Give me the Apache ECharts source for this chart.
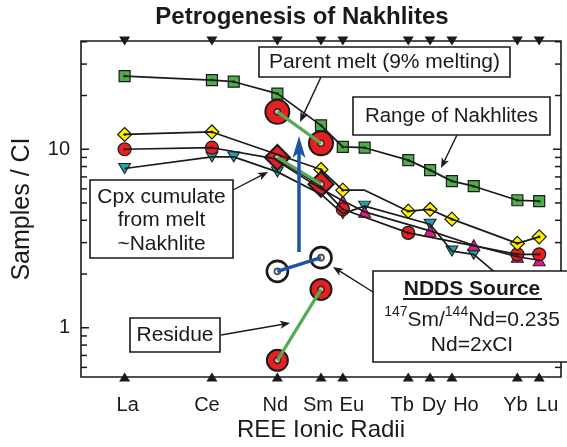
<!DOCTYPE html>
<html><head><meta charset="utf-8">
<script src="https://cdn.jsdelivr.net/npm/echarts@6/dist/echarts.min.js"></script>
<style>html,body{margin:0;padding:0;background:#fff}#c{width:567px;height:447px}</style>
</head><body><div id="c"></div>
<script>
// ---- data ----
const elements     = ['La','Ce','Pr','Nd','Sm','Eu','Gd','Tb','Dy','Ho','Er','Yb','Lu'];
const radiusPos    = [0, 4, 5, 7, 9, 10, 11, 13, 14, 15, 16, 18, 19];
const tickElements = ['La','Ce','Nd','Sm','Eu','Tb','Dy','Ho','Yb','Lu'];

const nakhliteMax  = [25.7,24.4,23.9,20.5,13.6,10.3,10.2,8.69,7.64,6.63,6.21,5.18,5.12];
const yellowLine   = [12.1,12.5,null,null,7.7,5.9,5.9,4.5,4.6,4.06,null,2.97,3.23];
const yellowPts    = [12.1,12.5,null,null,7.7,5.9,null,4.5,4.6,4.06,null,2.97,3.23];
const redLine      = [10.0,10.2,null,8.8,6.2,4.61,null,3.40,null,null,null,2.58,2.58];
const redPts       = [10.0,10.2,null,null,null,4.61,null,3.40,null,null,null,2.58,2.58];
const cyanLine     = [7.8,9.06,9.06,7.47,5.6,4.36,4.80,null,3.80,2.69,2.58,1.6,1.55];
const cyanPts      = [7.8,9.06,9.06,7.47,null,4.36,4.80,null,3.80,2.69,2.58,null,null];
const magentaLine  = [null,null,null,8.6,6.0,5.14,4.46,null,3.49,null,2.90,2.50,2.39];
const magentaPts   = [null,null,null,null,null,5.14,4.46,null,3.49,null,2.90,2.50,2.39];

const modelElements = ['Nd','Sm'];
const parentMelt    = [16.2, 10.8];
const cpxCumulate   = [9.0, 6.37];
const residue       = [0.657, 1.64];
const nddsSource    = [2.07, 2.47];

const yMajorTicks = [1, 10];
const yMinorTicks = [0.6,0.7,0.8,0.9,2,3,4,5,6,7,8,9,20,30,40];
const xMin = -2, xMax = 20, yMin = 0.53, yMax = 40.4;

// ---- styling (label nudges in px, as typeset in the original) ----
const labelNudge = {La:3, Ce:-5, Nd:-2, Sm:-3, Eu:9, Tb:-6, Dy:4, Ho:14, Yb:-2, Lu:8};

// ---- helpers ----
const F = 'Liberation Sans, Arial, Helvetica, sans-serif';
const INK = '#1a1a1a';
function pairs(vals){ const o=[]; vals.forEach((v,i)=>{ if(v!=null) o.push([radiusPos[i], v]); }); return o; }
function modelPairs(vals){ return vals.map((v,i)=>[radiusPos[elements.indexOf(modelElements[i])], v]); }
function blackLine(vals){ return {type:'line', data:pairs(vals), symbol:'none', silent:true, lineStyle:{color:INK, width:1.7}}; }
function colorLine(data, color, w){ return {type:'line', data, symbol:'none', silent:true, lineStyle:{color, width:w}}; }
function marks(data, symbol, size, color, bw, rot){ return {type:'scatter', data, symbol, symbolSize:size, symbolRotate:rot||0, clip:false, silent:true,
  itemStyle:{color, borderColor:INK, borderWidth:bw, opacity:1}}; }
function dots(data, size){ return {type:'scatter', data, symbol:'circle', symbolSize:size, clip:false, silent:true, itemStyle:{color:INK}}; }
function ringDots(data){ return {type:'scatter', data, symbol:'circle', symbolSize:6, clip:false, silent:true, itemStyle:{color:'#eee', borderColor:INK, borderWidth:1.6}}; }
function nameAt(v){
  const r = Math.round(v); const i = radiusPos.indexOf(r);
  if (Math.abs(v-r)>1e-6 || i<0) return '';
  const e = elements[i];
  return tickElements.indexOf(e)>=0 ? '{'+e+'|'+e+'}' : '';
}
const labelRich = {};
tickElements.forEach(e=>{ const n=labelNudge[e]||0;
  labelRich[e] = {fontSize:20, color:INK, fontFamily:F, padding: n>0 ? [0,0,0,2*n] : [0,-2*n,0,0]}; });

const tickData = yMajorTicks.map(v=>[xMin,v,8]).concat(yMinorTicks.map(v=>[xMin,v,6]));

function arrow(x1,y1,x2,y2,color,w,hl,hw){
  const a=Math.atan2(y2-y1,x2-x1), c=Math.cos(a), s=Math.sin(a);
  const bx=x2-hl*c, by=y2-hl*s;
  return [
    {type:'line', z:100, shape:{x1,y1,x2:bx+hl*0.3*c,y2:by+hl*0.3*s}, style:{stroke:color,lineWidth:w}},
    {type:'polygon', z:101, shape:{points:[[x2,y2],[bx-hw*s,by+hw*c],[bx+hl*0.25*c,by+hl*0.25*s],[bx+hw*s,by-hw*c]]}, style:{fill:color}}
  ];
}
function box(x,y,w,h){ return {type:'rect', z:100, shape:{x,y,width:w,height:h}, style:{fill:'#fff', stroke:INK, lineWidth:1.6}}; }
function txt(t,x,y,size,extra){ return {type:'text', z:102, x, y, style:Object.assign({text:t, font:'normal '+size+'px '+F, fill:INK, align:'center', verticalAlign:'middle', textAlign:'center', textVerticalAlign:'middle'}, (extra||{}))}; }

const graphics = [].concat(
  [txt('Petrogenesis of Nakhlites', 302, 17, 24, {font:'bold 24px '+F})],
  [Object.assign(txt('Samples / CI', 22, 209, 25), {rotation: Math.PI/2})],
  [txt('REE Ionic Radii', 321, 430, 24)],
  arrow(299,252,299,136,'#1d55a6',3.5,22,6.5),
  [box(259,47,251,30), txt('Parent melt (9% melting)', 384.5, 62.5, 21)],
  arrow(321,77,300,122,INK,1.4,10,4),
  [box(353,97,197,38), txt('Range of Nakhlites', 451.5, 116.5, 20.5)],
  arrow(457,135,441,168,INK,1.4,10,4),
  [box(90,180,143,78), txt('Cpx cumulate', 161.5, 197, 21), txt('from melt', 161.5, 220.5, 21), txt('~Nakhlite', 161.5, 244, 21)],
  arrow(233,190,268,172,INK,1.4,10,4),
  [box(130,318,90,34), txt('Residue', 175, 335, 21)],
  arrow(221,335,290,323,INK,1.4,10,4),
  [box(373,271,210,91),
   txt('NDDS Source', 472, 289, 21, {font:'bold 21px '+F}),
   {type:'line', z:102, shape:{x1:403,y1:299,x2:542,y2:299}, style:{stroke:INK, lineWidth:2}},
   {type:'text', z:102, x:472, y:318, style:{text:'{s|147}{n|Sm/}{s|144}{n|Nd=0.235}', align:'center', verticalAlign:'middle', textAlign:'center', textVerticalAlign:'middle',
     rich:{s:{fontSize:14, fontFamily:F, fill:INK, color:INK, lineHeight:14, verticalAlign:'top'}, n:{fontSize:21, fontFamily:F, fill:INK, color:INK, lineHeight:26, verticalAlign:'bottom'}}}},
   txt('Nd=2xCI', 472, 345, 21)],
  arrow(373,292,333,267,INK,1.4,10,4)
);

const chart = echarts.init(document.getElementById('c'), null, {renderer:'canvas'});
chart.setOption({
  animation:false,
  backgroundColor:'#fff',
  grid:{left:81, right:6, top:41, bottom:70, show:true, borderColor:INK, borderWidth:1.6, backgroundColor:'transparent'},
  xAxis:{type:'value', min:xMin, max:xMax, interval:1, axisLine:{show:false}, axisTick:{show:false}, splitLine:{show:false},
    axisLabel:{formatter:nameAt, rich:labelRich, fontSize:20, color:INK, fontFamily:F, margin:18}},
  yAxis:{type:'log', logBase:10, min:yMin, max:yMax, axisLine:{show:false}, axisTick:{show:false}, splitLine:{show:false},
    axisLabel:{fontSize:20, color:INK, fontFamily:F, margin:11, formatter:v=>{const l=Math.log10(v); return Math.abs(l-Math.round(l))<1e-6 ? String(Math.round(v)) : '';}}},
  series:[
    {type:'custom', data:tickData, encode:{x:0,y:1}, silent:true, renderItem:(p,api)=>{
      const v=api.value(1), len=api.value(2); const l=api.coord([xMin,v]), r=api.coord([xMax,v]);
      return {type:'group', children:[
        {type:'line', shape:{x1:l[0],y1:l[1],x2:l[0]+len,y2:l[1]}, style:{stroke:INK,lineWidth:1.5}},
        {type:'line', shape:{x1:r[0]-len,y1:r[1],x2:r[0],y2:r[1]}, style:{stroke:INK,lineWidth:1.5}}]};
    }},
    marks(tickElements.map(e=>[radiusPos[elements.indexOf(e)], yMax]), 'triangle', [11,9], INK, 0, 180),
    marks(tickElements.map(e=>[radiusPos[elements.indexOf(e)], yMin]), 'triangle', [11,9], INK, 0),
    blackLine(nakhliteMax), blackLine(yellowLine), blackLine(redLine), blackLine(cyanLine), blackLine(magentaLine),
    colorLine(modelPairs(parentMelt), '#55aa55', 3.2),
    colorLine(modelPairs(cpxCumulate), '#55aa55', 3.2),
    colorLine(modelPairs(residue), '#55aa55', 3.2),
    colorLine(modelPairs(nddsSource), '#1d55a6', 3.5),
    marks(pairs(nakhliteMax), 'rect', 11, '#4fae4a', 1.2), dots(pairs(nakhliteMax), 3),
    marks(pairs(cyanPts), 'triangle', [12,10], '#1ea5ab', 1, 180),
    marks(pairs(magentaPts), 'triangle', [12,11], '#e2198c', 1),
    marks(pairs(redPts), 'circle', 13, '#e62020', 1.2), dots(pairs(redPts), 3),
    marks(pairs(yellowPts), 'diamond', 14, '#fff200', 1.2), dots(pairs(yellowPts), 3),
    marks(modelPairs(cpxCumulate), 'diamond', 25, '#e62020', 2), ringDots(modelPairs(cpxCumulate)),
    marks(modelPairs(parentMelt), 'circle', 24, '#e62020', 2), ringDots(modelPairs(parentMelt)),
    marks(modelPairs(residue), 'circle', 21, '#e62020', 2), ringDots(modelPairs(residue)),
    marks(modelPairs(nddsSource), 'circle', 21, '#ffffff', 2.6), ringDots(modelPairs(nddsSource))
  ],
  graphic:graphics
});
</script></body></html>
